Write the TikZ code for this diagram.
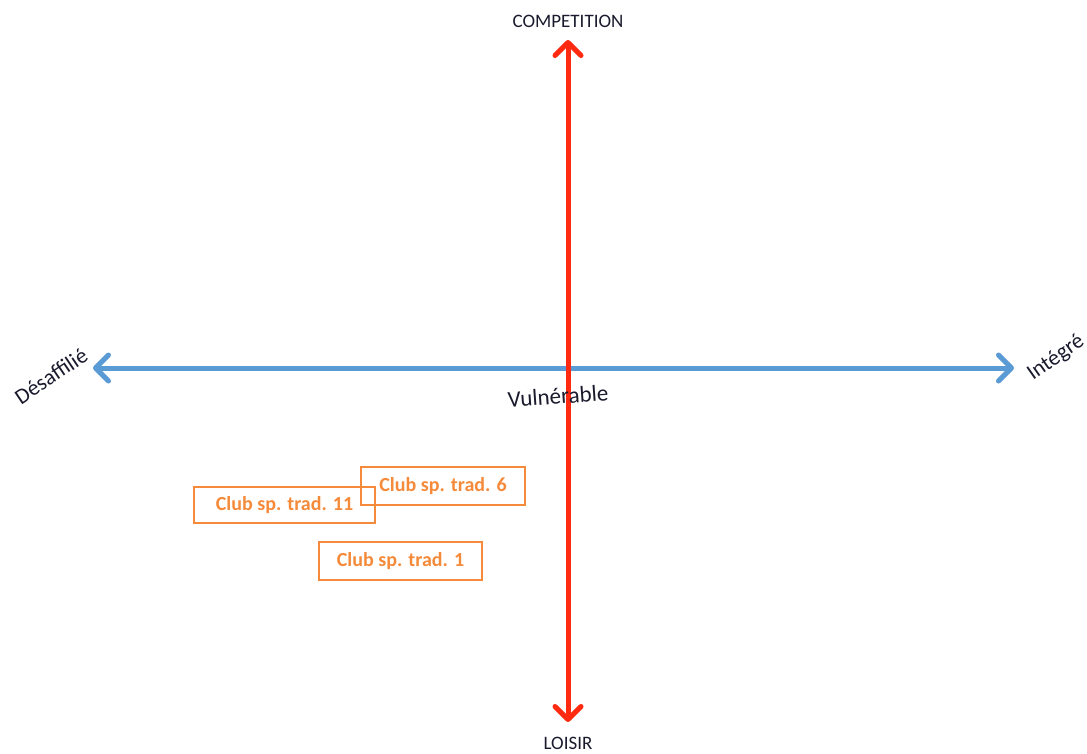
\documentclass[tikz,border=0pt]{standalone}
\usepackage{fontspec}
\setmainfont{Carlito}
\usetikzlibrary{arrows.meta}
\definecolor{axred}{HTML}{FF2A0F}
\definecolor{axblue}{HTML}{5B9BD5}
\definecolor{clubor}{HTML}{F58A3A}
\definecolor{labtxt}{HTML}{1A1A2E}
\begin{document}
\begin{tikzpicture}[x=1pt,y=-1pt,
  axis/.style={line width=5pt,{Straight Barb[length=13pt,width=26pt,round]}-{Straight Barb[length=13pt,width=26pt,round]}},
  axlab/.style={font=\fontsize{19}{21}\selectfont,text=labtxt,inner sep=0pt},
  club/.style={draw=clubor,line width=1.2pt,text=clubor,font=\fontsize{20}{22}\selectfont\bfseries,inner sep=0pt}]
\useasboundingbox (0,0) rectangle (1087,753);
\coordinate (top) at (568,40);
\coordinate (bot) at (568,722);
\coordinate (lft) at (93,368);
\coordinate (rgt) at (1014,368);
\draw[axis,draw=axblue] (lft) -- (rgt);
\draw[axis,draw=axred] (bot) -- (top);
\node[axlab] (comp) at (568,21) {COMPETITION};
\node[axlab] (lois) at (568,743) {LOISIR};
\node[axlab,font=\fontsize{22}{24}\selectfont,rotate=34] (desa) at (51,376) {Désaffilié};
\node[axlab,font=\fontsize{22}{24}\selectfont,rotate=35] (integ) at (1056,358) {Intégré};
\node[axlab,font=\fontsize{23}{25}\selectfont,rotate=4] (vuln) at (558,396) {Vulnérable};
\node[club,minimum width=181pt,minimum height=36pt] (c11) at (284.5,505) {Club sp. trad. 11};
\node[club,minimum width=164pt,minimum height=38pt] (c6) at (443,486) {Club sp. trad. 6};
\node[club,minimum width=163pt,minimum height=38pt] (c1) at (400.5,561) {Club sp. trad. 1};
\end{tikzpicture}
\end{document}
